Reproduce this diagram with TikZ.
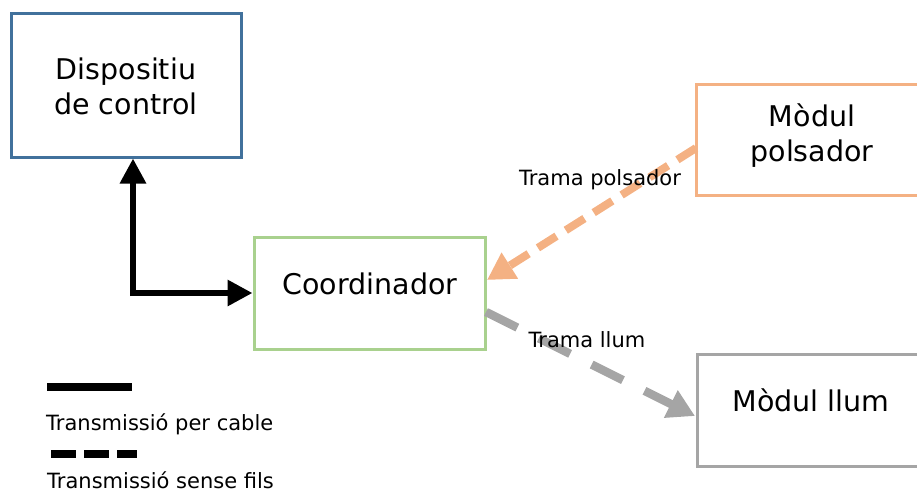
\documentclass[tikz,border=0pt]{standalone}
\usepackage{fontspec}
\setmainfont{DejaVu Sans}
\usetikzlibrary{arrows.meta}
\definecolor{ctlblue}{HTML}{41719C}
\definecolor{btnorange}{HTML}{F4B183}
\definecolor{crdgreen}{HTML}{A9D18E}
\definecolor{lampgray}{HTML}{A5A5A5}
\tikzset{
  blockbox/.style={draw, line width=3pt, fill=white, inner sep=0pt},
  blocktext/.style={align=center, inner sep=0pt,
    font=\fontsize{28.5}{35}\selectfont},
  wire/.style={line width=6pt, -{Triangle[length=25pt,width=25pt]}},
  radio/.style={line width=8pt, line cap=butt, -{Triangle[length=27pt,width=29pt]}},
  lbl/.style={font=\fontsize{21}{24}\selectfont, inner sep=0pt},
}
\begin{document}
\begin{tikzpicture}[x=1pt,y=-1pt]
\useasboundingbox (0,0) rectangle (917,493);
\clip (0,0) rectangle (917,493);
% blocks
\node[blockbox, draw=ctlblue, minimum width=230pt, minimum height=144pt] (ctl) at (126,85) {};
\node[blockbox, draw=crdgreen, minimum width=231pt, minimum height=112pt] (crd) at (369.5,293) {};
\node[blockbox, draw=btnorange, minimum width=230pt, minimum height=111pt] (btn) at (811,139.5) {};
\node[blockbox, draw=lampgray, minimum width=230pt, minimum height=112pt] (lamp) at (812,410) {};
\node[blocktext] (ctltxt) at (126,86) {Dispositiu\\de control};
\node[blocktext] (crdtxt) at (370,284) {Coordinador};
\node[blocktext] (btntxt) at (812,136) {Mòdul\\polsador};
\node[blocktext] (lamptxt) at (811,400) {Mòdul llum};
% cable link: two arrows leaving a shared square corner
\coordinate (corner) at (133,293);
\draw[wire] ([yshift=-3pt]corner) -- (ctl.south -| corner);
\draw[wire] ([xshift=-3pt]corner) -- (crd.west);
% wireless links
\coordinate (btnout) at (696,148);
\coordinate (crdin) at (487,280);
\coordinate (crdout) at (486,312);
\coordinate (lampin) at (695,416);
\draw[radio, btnorange, dash pattern=on 22pt off 11pt] (btnout) -- (crdin);
\draw[radio, lampgray, line width=8.5pt, dash pattern=on 35pt off 24pt] (crdout) -- (lampin);
\node[lbl, anchor=base] (lblbtn) at (600,185) {Trama polsador};
\node[lbl, anchor=base] (lbllamp) at (587,347) {Trama llum};
% legend
\coordinate (l1a) at (47,386.5);
\coordinate (l1b) at (132,386.5);
\coordinate (l2a) at (51,454);
\coordinate (l2b) at (137,454);
\draw[line width=8pt] (l1a) -- (l1b);
\draw[line width=8pt, dash pattern=on 25pt off 8pt] (l2a) -- (l2b);
\node[lbl, anchor=base west] (lgcable) at (46,430) {Transmissió per cable};
\node[lbl, anchor=base west] (lgwifi) at (47,488) {Transmissió sense fils};
\end{tikzpicture}
\end{document}
